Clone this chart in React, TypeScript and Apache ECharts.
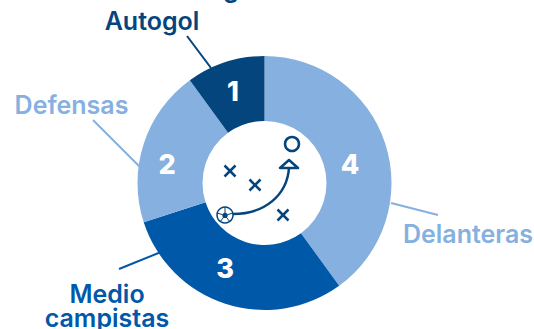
import React, { useEffect, useRef } from "react";
import * as echarts from "echarts";

const categories = ["Delanteras", "Medio\ncampistas", "Defensas", "Autogol"];
const values = [4, 3, 2, 1];
const colors = ["#85b0e0", "#0058a8", "#85b0e0", "#03457c"];
const nameColors = ["#85b0e0", "#0058a8", "#85b0e0", "#03457c"];
const FONT = "Inter, 'Noto Sans', sans-serif";

const valueLabels = [
  { x: 350, y: 164 },
  { x: 225, y: 268 },
  { x: 167, y: 164 },
  { x: 233, y: 91 },
];
const outerLabels = [
  { x: 468, y: 234 },
  { x: 107, y: 306 },
  { x: 71.5, y: 105 },
  { x: 152, y: 21 },
];
const leaders = [
  [391, 203, 438, 215],
  [119, 269, 161, 252],
  [93, 120, 141, 168],
  [187, 36, 211, 68],
];
const leaderColors = ["#85b0e0", "#0058a8", "#85b0e0", "#03457c"];
const DARK = "#03457c";

export default function App() {
  const ref = useRef<HTMLDivElement>(null);
  useEffect(() => {
    const chart = echarts.init(ref.current!, undefined, { renderer: "svg" });
    const stroke = { stroke: DARK, lineWidth: 2.5, fill: "none" };
    const cross = (cx: number, cy: number) => [
      { type: "line", shape: { x1: cx - 5.5, y1: cy - 5.5, x2: cx + 5.5, y2: cy + 5.5 }, style: stroke },
      { type: "line", shape: { x1: cx + 5.5, y1: cy - 5.5, x2: cx - 5.5, y2: cy + 5.5 }, style: stroke },
    ];
    chart.setOption({
      animation: false,
      series: [
        {
          type: "pie",
          center: [264.5, 183],
          radius: [62, 127],
          startAngle: 90,
          clockwise: true,
          silent: true,
          itemStyle: { borderWidth: 0 },
          label: {
            position: "inside",
            formatter: "{c}",
            color: "#ffffff",
            fontFamily: FONT,
            fontWeight: 800,
            fontSize: 27,
          },
          labelLayout: (p: any) => ({
            x: valueLabels[p.dataIndex].x,
            y: valueLabels[p.dataIndex].y,
            align: "center",
            verticalAlign: "middle",
          }),
          labelLine: { show: false },
          data: categories.map((name, i) => ({
            name,
            value: values[i],
            itemStyle: { color: colors[i] },
          })),
        },
      ],
      graphic: {
        elements: [
          ...categories.map((name, i) => ({
            type: "text",
            x: outerLabels[i].x,
            y: outerLabels[i].y,
            style: {
              text: name,
              fill: nameColors[i],
              font: `600 25px ${FONT}`,
              lineHeight: 24,
              align: "center",
              verticalAlign: "middle",
            },
          })),
          ...leaders.map((l, i) => ({
            type: "line",
            shape: { x1: l[0], y1: l[1], x2: l[2], y2: l[3] },
            style: { stroke: leaderColors[i], lineWidth: 2 },
          })),
          { type: "text", x: 231, y: -23, style: { text: "g", fill: DARK, font: `700 24px ${FONT}`, align: "center" } },
          ...cross(230, 171),
          ...cross(255, 185),
          ...cross(283, 215),
          { type: "circle", shape: { cx: 292, cy: 144, r: 7 }, style: stroke },
          { type: "polygon", shape: { points: [[289, 160], [280, 168], [298, 168]] }, style: { ...stroke, lineJoin: "round" } },
          { type: "bezierCurve", shape: { x1: 233, y1: 214, cpx1: 265, cpy1: 214, cpx2: 287, cpy2: 195, x2: 289, y2: 168 }, style: stroke },
          { type: "circle", shape: { cx: 225, cy: 215, r: 8 }, style: { stroke: DARK, lineWidth: 1.5, fill: "#fff" } },
          { type: "polygon", shape: { points: [[225, 212], [228, 214.5], [227, 218], [223, 218], [222, 214.5]] }, style: { fill: DARK } },
          { type: "line", shape: { x1: 225, y1: 212, x2: 225, y2: 207 }, style: { stroke: DARK, lineWidth: 1 } },
          { type: "line", shape: { x1: 228, y1: 214.5, x2: 233, y2: 213 }, style: { stroke: DARK, lineWidth: 1 } },
          { type: "line", shape: { x1: 222, y1: 214.5, x2: 217, y2: 213 }, style: { stroke: DARK, lineWidth: 1 } },
          { type: "line", shape: { x1: 227, y1: 218, x2: 230, y2: 222 }, style: { stroke: DARK, lineWidth: 1 } },
          { type: "line", shape: { x1: 223, y1: 218, x2: 220, y2: 222 }, style: { stroke: DARK, lineWidth: 1 } },
        ],
      },
    });
    return () => chart.dispose();
  }, []);
  return <div ref={ref} style={{ position: "fixed", left: 0, top: 0, width: 534, height: 329, background: "#fff" }} />;
}
